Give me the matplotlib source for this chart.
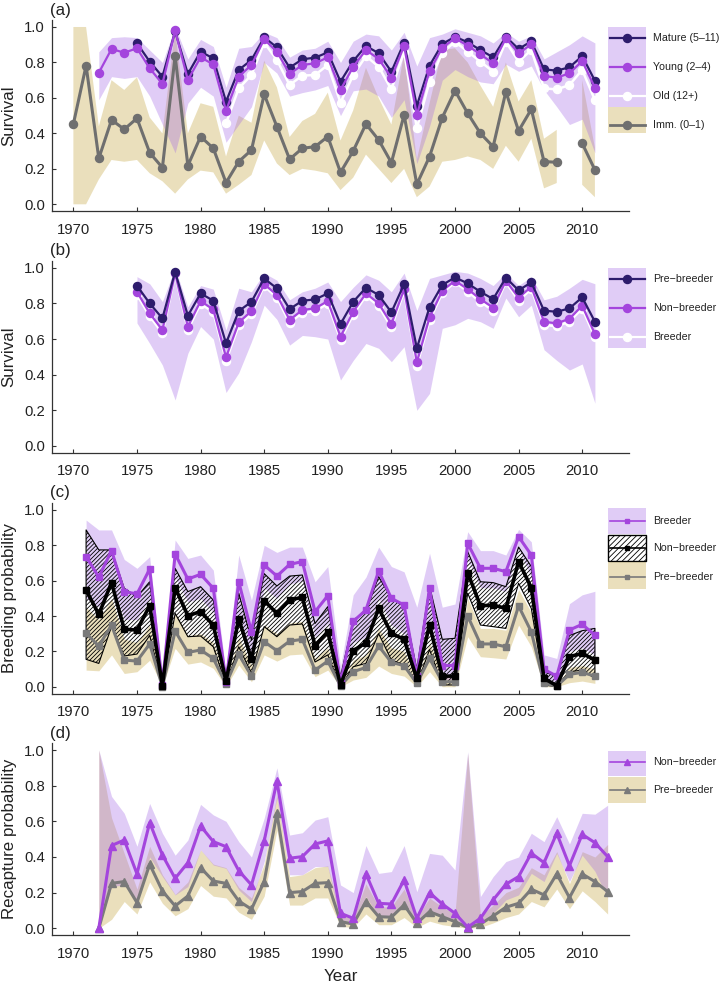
import numpy as np
import matplotlib
matplotlib.use("Agg")
import matplotlib.pyplot as plt
from matplotlib.patches import Rectangle
from matplotlib.lines import Line2D
from matplotlib.ticker import FormatStrFormatter

plt.rcParams["font.family"] = ["Liberation Sans", "DejaVu Sans"]
plt.rcParams["hatch.linewidth"] = 0.6

nan = np.nan

# ---- (a) survival by age class ----
years_imm = np.arange(1970, 2012)
imm = [0.453, 0.782, 0.259, 0.476, 0.423, 0.485, 0.291, 0.207, 0.838, 0.218,
       0.382, 0.316, 0.122, 0.241, 0.306, 0.620, 0.438, 0.254, 0.316, 0.325,
       0.382, 0.180, 0.301, 0.453, 0.363, 0.235, 0.504, 0.113, 0.269, 0.489,
       0.641, 0.513, 0.400, 0.325, 0.635, 0.414, 0.536, 0.241, 0.237, nan,
       0.344, 0.194]
imm_lo = [0.0, 0.0, 0.14, 0.25, 0.24, 0.25, 0.175, 0.13, 0.06, 0.14,
          0.19, 0.18, 0.06, 0.11, 0.165, 0.36, 0.23, 0.165, 0.20, 0.19,
          0.175, 0.08, 0.15, 0.28, 0.20, 0.12, 0.20, 0.04, 0.10, 0.24,
          0.25, 0.27, 0.25, 0.20, 0.33, 0.24, 0.37, 0.09, 0.12, nan,
          0.11, 0.04]
imm_hi = [1.0, 1.0, 0.44, 0.70, 0.645, 0.716, 0.49, 0.40, 0.98, 0.40,
          0.57, 0.55, 0.27, 0.50, 0.46, 0.81, 0.66, 0.38, 0.47, 0.51,
          0.63, 0.36, 0.53, 0.77, 0.60, 0.45, 0.85, 0.25, 0.57, 0.87,
          0.88, 0.80, 0.67, 0.55, 0.80, 0.58, 0.70, 0.37, 0.42, nan,
          0.70, 0.32]

years_adult = np.arange(1972, 2012)
adult_lo = [0.59, 0.72, 0.71, 0.72, 0.61, 0.45, 0.29, 0.57, 0.66, 0.61,
            0.35, 0.45, 0.55, 0.80, 0.74, 0.61, 0.63, 0.645, 0.67, 0.50,
            0.64, 0.65, 0.61, 0.49, 0.59, 0.23, 0.44, 0.70, 0.76, 0.72,
            0.69, 0.68, 0.79, 0.75, 0.78, 0.645, 0.55, 0.45, 0.48, 0.29]
adult_hi = [0.86, 0.94, 0.945, 0.94, 0.87, 0.80, 1.0, 0.82, 0.93, 0.89,
            0.66, 0.88, 0.89, 0.97, 0.94, 0.83, 0.87, 0.88, 0.92, 0.80,
            0.92, 0.96, 0.95, 0.87, 0.97, 0.78, 0.94, 0.96, 0.99, 0.97,
            0.95, 0.91, 0.97, 0.92, 0.95, 0.82, 0.86, 0.90, 0.95, 0.91]

years_young = np.arange(1972, 2012)
young = [0.742, 0.876, 0.855, 0.880, 0.767, 0.679, 0.981, 0.701, 0.829, 0.789,
         0.528, 0.720, 0.786, 0.930, 0.861, 0.735, 0.786, 0.795, 0.829, 0.645,
         0.776, 0.870, 0.820, 0.714, 0.893, 0.504, 0.752, 0.883, 0.936, 0.895,
         0.846, 0.795, 0.936, 0.852, 0.902, 0.724, 0.714, 0.739, 0.808, 0.658]

years_mature = np.arange(1975, 2012)
mature = [0.908, 0.805, 0.720, 0.975, 0.735, 0.861, 0.823, 0.579, 0.758, 0.814,
          0.942, 0.885, 0.771, 0.818, 0.827, 0.857, 0.692, 0.808, 0.893, 0.852,
          0.748, 0.912, 0.555, 0.782, 0.904, 0.945, 0.914, 0.870, 0.829, 0.945,
          0.876, 0.919, 0.761, 0.754, 0.773, 0.836, 0.697]

years_old = np.arange(1982, 2012)
old = [0.457, 0.654, 0.729, 0.912, 0.814, 0.673, 0.726, 0.729, 0.786, 0.573,
       0.729, 0.836, 0.776, 0.648, 0.861, 0.429, 0.692, 0.855, 0.917, 0.861,
       0.805, 0.748, 0.917, 0.805, 0.870, 0.654, 0.648, 0.673, 0.758, 0.588]

# ---- (b) survival by breeding state ----
years_b = np.arange(1975, 2012)
pre_b = [0.899, 0.800, 0.716, 0.978, 0.731, 0.856, 0.815, 0.576, 0.757, 0.809,
         0.940, 0.884, 0.768, 0.815, 0.822, 0.856, 0.684, 0.809, 0.888, 0.847,
         0.750, 0.908, 0.548, 0.779, 0.903, 0.946, 0.912, 0.865, 0.824, 0.944,
         0.873, 0.918, 0.759, 0.753, 0.772, 0.834, 0.697]
nonb_b = [0.865, 0.744, 0.650, 0.968, 0.669, 0.813, 0.766, 0.497, 0.693, 0.757,
          0.908, 0.847, 0.707, 0.763, 0.772, 0.813, 0.613, 0.753, 0.856, 0.800,
          0.684, 0.879, 0.469, 0.721, 0.871, 0.927, 0.880, 0.824, 0.776, 0.927,
          0.832, 0.893, 0.697, 0.688, 0.714, 0.787, 0.628]
breeder_b = [0.848, 0.728, 0.632, 0.962, 0.652, 0.798, 0.750, 0.478, 0.676, 0.741,
             0.898, 0.832, 0.690, 0.748, 0.757, 0.798, 0.596, 0.737, 0.842, 0.784,
             0.666, 0.866, 0.450, 0.704, 0.858, 0.918, 0.866, 0.808, 0.760, 0.918,
             0.816, 0.880, 0.680, 0.671, 0.698, 0.771, 0.610]
band_b_lo = [0.69, 0.575, 0.454, 0.258, 0.52, 0.67, 0.60, 0.30, 0.41, 0.585,
             0.79, 0.71, 0.566, 0.62, 0.613, 0.60, 0.37, 0.48, 0.575, 0.548,
             0.473, 0.557, 0.20, 0.295, 0.66, 0.68, 0.716, 0.697, 0.66, 0.83,
             0.725, 0.79, 0.54, 0.48, 0.426, 0.46, 0.24]
band_b_hi = [0.95, 0.91, 0.81, 1.0, 0.78, 0.90, 0.88, 0.65, 0.885, 0.865,
             0.97, 0.93, 0.82, 0.865, 0.885, 0.92, 0.81, 0.89, 0.96, 0.93,
             0.865, 0.97, 0.76, 0.94, 0.96, 0.98, 0.97, 0.94, 0.90, 0.97,
             0.90, 0.95, 0.82, 0.84, 0.885, 0.935, 0.91]

# ---- (c) breeding probability ----
years_c = np.arange(1971, 2012)
breeder_c = [0.736, 0.620, 0.770, 0.538, 0.525, 0.666, 0.010, 0.751, 0.609, 0.636,
             0.557, 0.028, 0.594, 0.311, 0.689, 0.626, 0.692, 0.708, 0.425, 0.515,
             0.019, 0.370, 0.434, 0.655, 0.500, 0.462, 0.060, 0.557, 0.120, 0.120,
             0.811, 0.670, 0.670, 0.651, 0.849, 0.745, 0.098, 0.060, 0.321, 0.353, 0.292]
nonb_c = [0.547, 0.409, 0.589, 0.325, 0.321, 0.458, 0.006, 0.560, 0.402, 0.425,
          0.349, 0.032, 0.383, 0.157, 0.487, 0.415, 0.491, 0.506, 0.232, 0.311,
          0.009, 0.204, 0.249, 0.443, 0.302, 0.268, 0.047, 0.349, 0.060, 0.060,
          0.645, 0.458, 0.462, 0.443, 0.708, 0.560, 0.047, 0.006, 0.170, 0.189, 0.151]
pre_c = [0.302, 0.230, 0.349, 0.151, 0.145, 0.242, 0.000, 0.315, 0.194, 0.208,
         0.160, 0.015, 0.183, 0.060, 0.255, 0.204, 0.258, 0.268, 0.094, 0.145,
         0.004, 0.085, 0.109, 0.230, 0.138, 0.119, 0.019, 0.160, 0.028, 0.028,
         0.400, 0.242, 0.242, 0.226, 0.457, 0.311, 0.019, 0.004, 0.070, 0.081, 0.060]
breeder_c_lo = [0.50, 0.45, 0.60, 0.38, 0.38, 0.50, 0.0, 0.62, 0.48, 0.50,
                0.42, 0.005, 0.42, 0.17, 0.56, 0.50, 0.58, 0.60, 0.28, 0.36,
                0.0, 0.25, 0.28, 0.50, 0.35, 0.30, 0.01, 0.35, 0.04, 0.04,
                0.72, 0.56, 0.56, 0.54, 0.78, 0.62, 0.03, 0.01, 0.20, 0.22, 0.18]
breeder_c_hi = [0.943, 0.887, 0.887, 0.72, 0.67, 0.736, 0.05, 0.83, 0.726, 0.745,
                0.66, 0.075, 0.745, 0.49, 0.80, 0.76, 0.79, 0.79, 0.594, 0.68,
                0.113, 0.52, 0.62, 0.79, 0.68, 0.65, 0.45, 0.755, 0.45, 0.468,
                0.877, 0.77, 0.77, 0.745, 0.89, 0.82, 0.18, 0.16, 0.47, 0.52, 0.54]
nonb_c_lo = [0.155, 0.132, 0.34, 0.174, 0.185, 0.29, 0.0, 0.415, 0.283, 0.287,
             0.226, 0.01, 0.226, 0.075, 0.34, 0.283, 0.349, 0.355, 0.14, 0.18,
             0.0, 0.113, 0.132, 0.30, 0.151, 0.123, 0.01, 0.21, 0.01, 0.01,
             0.53, 0.349, 0.34, 0.33, 0.585, 0.443, 0.01, 0.0, 0.085, 0.094, 0.047]
nonb_c_hi = [0.887, 0.774, 0.774, 0.557, 0.509, 0.594, 0.02, 0.67, 0.538, 0.566,
             0.49, 0.06, 0.53, 0.264, 0.64, 0.57, 0.626, 0.632, 0.358, 0.453,
             0.057, 0.377, 0.425, 0.623, 0.50, 0.453, 0.10, 0.57, 0.268, 0.274,
             0.764, 0.594, 0.589, 0.566, 0.79, 0.68, 0.085, 0.057, 0.29, 0.317, 0.33]
pre_c_lo = [0.094, 0.09, 0.18, 0.075, 0.085, 0.15, 0.0, 0.217, 0.128, 0.14,
            0.104, 0.0, 0.123, 0.028, 0.18, 0.145, 0.18, 0.185, 0.057, 0.094,
            0.0, 0.038, 0.053, 0.117, 0.075, 0.06, 0.0, 0.085, 0.0, 0.0,
            0.283, 0.17, 0.164, 0.157, 0.349, 0.226, 0.0, 0.0, 0.023, 0.032, 0.019]
pre_c_hi = [0.45, 0.38, 0.50, 0.27, 0.25, 0.35, 0.01, 0.42, 0.29, 0.30,
            0.25, 0.03, 0.28, 0.12, 0.35, 0.30, 0.36, 0.37, 0.16, 0.22,
            0.01, 0.15, 0.18, 0.33, 0.22, 0.20, 0.04, 0.25, 0.07, 0.07,
            0.50, 0.33, 0.33, 0.32, 0.55, 0.42, 0.03, 0.01, 0.11, 0.12, 0.10]

# ---- (d) recapture probability ----
years_d = np.arange(1972, 2013)
nonb_d = [0.000, 0.464, 0.495, 0.305, 0.593, 0.411, 0.280, 0.368, 0.574, 0.486,
          0.458, 0.323, 0.243, 0.490, 0.826, 0.393, 0.402, 0.473, 0.490, 0.084,
          0.056, 0.305, 0.140, 0.136, 0.271, 0.056, 0.200, 0.136, 0.084, 0.006,
          0.056, 0.159, 0.247, 0.290, 0.421, 0.368, 0.533, 0.351, 0.527, 0.480, 0.402]
pre_d = [0.000, 0.252, 0.262, 0.144, 0.359, 0.209, 0.125, 0.181, 0.340, 0.265,
         0.252, 0.153, 0.107, 0.262, 0.645, 0.200, 0.206, 0.252, 0.256, 0.037,
         0.024, 0.150, 0.065, 0.062, 0.131, 0.028, 0.093, 0.065, 0.037, 0.004,
         0.024, 0.069, 0.118, 0.140, 0.219, 0.187, 0.305, 0.172, 0.305, 0.262, 0.206]
nonb_d_lo = [0.0, 0.234, 0.243, 0.159, 0.40, 0.29, 0.187, 0.234, 0.44, 0.355,
             0.336, 0.215, 0.15, 0.374, 0.73, 0.30, 0.30, 0.346, 0.346, 0.028,
             0.019, 0.178, 0.065, 0.065, 0.15, 0.028, 0.103, 0.065, 0.037, 0.0,
             0.028, 0.084, 0.159, 0.187, 0.308, 0.262, 0.42, 0.262, 0.41, 0.32, 0.17]
nonb_d_hi = [1.0, 0.74, 0.645, 0.46, 0.70, 0.533, 0.41, 0.495, 0.695, 0.636,
             0.60, 0.486, 0.40, 0.617, 0.90, 0.523, 0.536, 0.607, 0.626, 0.243,
             0.20, 0.464, 0.308, 0.318, 0.464, 0.205, 0.42, 0.41, 0.327, 0.99,
             0.178, 0.29, 0.374, 0.40, 0.533, 0.486, 0.626, 0.473, 0.645, 0.64, 0.69]
pre_d_lo = [0.0, 0.05, 0.15, 0.08, 0.26, 0.14, 0.07, 0.11, 0.24, 0.18,
            0.17, 0.09, 0.05, 0.18, 0.55, 0.13, 0.13, 0.17, 0.17, 0.01,
            0.005, 0.08, 0.02, 0.02, 0.06, 0.005, 0.04, 0.02, 0.01, 0.0,
            0.005, 0.03, 0.06, 0.08, 0.15, 0.12, 0.22, 0.11, 0.21, 0.15, 0.08]
pre_d_hi = [1.0, 0.62, 0.42, 0.22, 0.46, 0.30, 0.19, 0.26, 0.44, 0.36,
            0.34, 0.23, 0.17, 0.36, 0.75, 0.29, 0.30, 0.34, 0.35, 0.08,
            0.06, 0.25, 0.12, 0.12, 0.22, 0.06, 0.17, 0.12, 0.08, 0.98,
            0.07, 0.13, 0.20, 0.23, 0.34, 0.30, 0.43, 0.25, 0.43, 0.40, 0.47]

NAVY = "#2D1C6C"
PURPLE = "#A445DD"
GREY = "#6F6F6F"
LAV = (0.63, 0.40, 0.90, 0.33)
TAN = (0.77, 0.65, 0.25, 0.35)
TXT = "#222222"

fig = plt.figure(figsize=(7.19, 9.83), dpi=100)
W, H = 719, 983


def make_axes(top, bottom):
    return fig.add_axes([52 / W, 1 - bottom / H, 577 / W, (bottom - top) / H])


def style(ax, ylabel):
    ax.set_xlim(1968.32, 2013.68)
    ax.set_ylim(-0.04, 1.04)
    ax.set_xticks(range(1970, 2011, 5))
    ax.set_yticks([0.0, 0.2, 0.4, 0.6, 0.8, 1.0])
    ax.yaxis.set_major_formatter(FormatStrFormatter("%.1f"))
    for s in ["top", "right"]:
        ax.spines[s].set_visible(False)
    for s in ["left", "bottom"]:
        ax.spines[s].set_linewidth(0.9)
        ax.spines[s].set_color("#333333")
    ax.tick_params(direction="in", length=3, width=0.8, colors="#333333",
                   labelsize=10.7, labelcolor=TXT)
    ax.tick_params(axis="x", pad=8)
    ax.tick_params(axis="y", pad=5)
    ax.set_ylabel(ylabel, fontsize=12.2, color=TXT, va="center")
    ax.yaxis.set_label_coords(-0.0745, 0.5)


# (a)
ax_a = make_axes(19.9, 211.4)
ax_a.fill_between(years_imm, imm_lo, imm_hi, color=TAN, lw=0, zorder=1)
ax_a.fill_between(years_adult, adult_lo, adult_hi, color=LAV, lw=0, zorder=1)
ax_a.plot(years_imm, imm, color=GREY, lw=2.2, marker="o", ms=5.8, zorder=3)
ax_a.plot(years_old, old, color="white", lw=1.8, marker="o", ms=5.8, zorder=3)
ax_a.plot(years_mature, mature, color=NAVY, lw=1.6, marker="o", ms=5.8, zorder=4)
ax_a.plot(years_young, young, color=PURPLE, lw=1.6, marker="o", ms=5.8, zorder=4)
style(ax_a, "Survival")

# (b)
ax_b = make_axes(260.6, 453.1)
ax_b.fill_between(years_b, band_b_lo, band_b_hi, color=LAV, lw=0, zorder=1)
ax_b.plot(years_b, breeder_b, color="white", lw=1.8, marker="o", ms=5.8, zorder=3)
ax_b.plot(years_b, nonb_b, color=PURPLE, lw=1.6, marker="o", ms=5.8, zorder=4)
ax_b.plot(years_b, pre_b, color=NAVY, lw=1.6, marker="o", ms=5.8, zorder=5)
style(ax_b, "Survival")

# (c)
ax_c = make_axes(502.9, 693.8)
ax_c.fill_between(years_c, pre_c_lo, pre_c_hi, color=TAN, lw=0, zorder=1)
ax_c.fill_between(years_c, breeder_c_lo, breeder_c_hi, color=LAV, lw=0, zorder=1)
ax_c.fill_between(years_c, nonb_c_lo, nonb_c_hi, facecolor="none",
                  edgecolor="black", hatch="////////", lw=0.8, zorder=2)
ax_c.plot(years_c, pre_c, color="#7A7A7A", lw=2.2, marker="s", ms=5, zorder=3)
ax_c.plot(years_c, breeder_c, color=PURPLE, lw=2.2, marker="s", ms=5, zorder=4)
ax_c.plot(years_c, nonb_c, color="black", lw=2.6, marker="s", ms=5, zorder=5)
style(ax_c, "Breeding probability")

# (d)
ax_d = make_axes(742.9, 935.4)
ax_d.fill_between(years_d, pre_d_lo, pre_d_hi, color=TAN, lw=0, zorder=1)
ax_d.fill_between(years_d, nonb_d_lo, nonb_d_hi, color=LAV, lw=0, zorder=1)
ax_d.plot(years_d, pre_d, color="#7A7A7A", lw=2.2, marker="^", ms=6.3, zorder=3)
ax_d.plot(years_d, nonb_d, color=PURPLE, lw=2.2, marker="^", ms=6.3, zorder=4)
style(ax_d, "Recapture probability")
ax_d.set_xlabel("Year", fontsize=12.2, color=TXT, va="center")
ax_d.xaxis.set_label_coords(0.5, -0.216)

# overlay in pixel coordinates for panel tags and legends
ov = fig.add_axes([0, 0, 1, 1])
ov.set_xlim(0, W)
ov.set_ylim(H, 0)
ov.axis("off")
ov.patch.set_alpha(0)

for tag, y in [("(a)", 10), ("(b)", 250.5), ("(c)", 492.5), ("(d)", 733.5)]:
    ov.text(50, y, tag, fontsize=12.2, color=TXT, va="center", ha="left")

LX0, LX1, TX = 608, 646, 653


def legend_row(y, label, color, marker, ms=5.8, lw=1.6):
    ov.add_line(Line2D([LX0 + 2, LX1 - 1], [y, y], color=color, lw=lw))
    ov.add_line(Line2D([(LX0 + LX1) / 2], [y], color=color, marker=marker,
                       ms=ms, lw=0))
    ov.text(TX, y, label, fontsize=7.7, color=TXT, va="center", ha="left")


# legend (a)
ov.add_patch(Rectangle((LX0, 27), LX1 - LX0, 80, color=LAV, lw=0))
ov.add_patch(Rectangle((LX0, 107), LX1 - LX0, 26, color=TAN, lw=0))
legend_row(37.7, "Mature (5–11)", NAVY, "o")
legend_row(66.7, "Young (2–4)", PURPLE, "o")
legend_row(96, "Old (12+)", "white", "o")
legend_row(125, "Imm. (0–1)", GREY, "o", lw=2)

# legend (b)
ov.add_patch(Rectangle((LX0, 267.7), LX1 - LX0, 80.6, color=LAV, lw=0))
legend_row(279.3, "Pre−breeder", NAVY, "o")
legend_row(308.3, "Non−breeder", PURPLE, "o")
legend_row(336.7, "Breeder", "white", "o")

# legend (c)
ov.add_patch(Rectangle((LX0, 507.5), LX1 - LX0, 26.5, color=LAV, lw=0))
ov.add_patch(Rectangle((LX0, 534.5), LX1 - LX0, 26.5, facecolor="none",
                       edgecolor="black", hatch="//////", lw=1))
ov.add_patch(Rectangle((LX0, 562), LX1 - LX0, 26.5, color=TAN, lw=0))
legend_row(520.7, "Breeder", PURPLE, "s", ms=3.5, lw=1.2)
legend_row(548, "Non−breeder", "black", "s", ms=3.5, lw=1.2)
legend_row(576.5, "Pre−breeder", "#7A7A7A", "s", ms=3.5, lw=1.2)

# legend (d)
ov.add_patch(Rectangle((LX0, 750.7), LX1 - LX0, 25.5, color=LAV, lw=0))
ov.add_patch(Rectangle((LX0, 776.5), LX1 - LX0, 26.5, color=TAN, lw=0))
legend_row(761.7, "Non−breeder", PURPLE, "^", ms=4.5, lw=1.2)
legend_row(790, "Pre−breeder", "#7A7A7A", "^", ms=4.5, lw=1.2)

fig.savefig("out.png", dpi=100)
